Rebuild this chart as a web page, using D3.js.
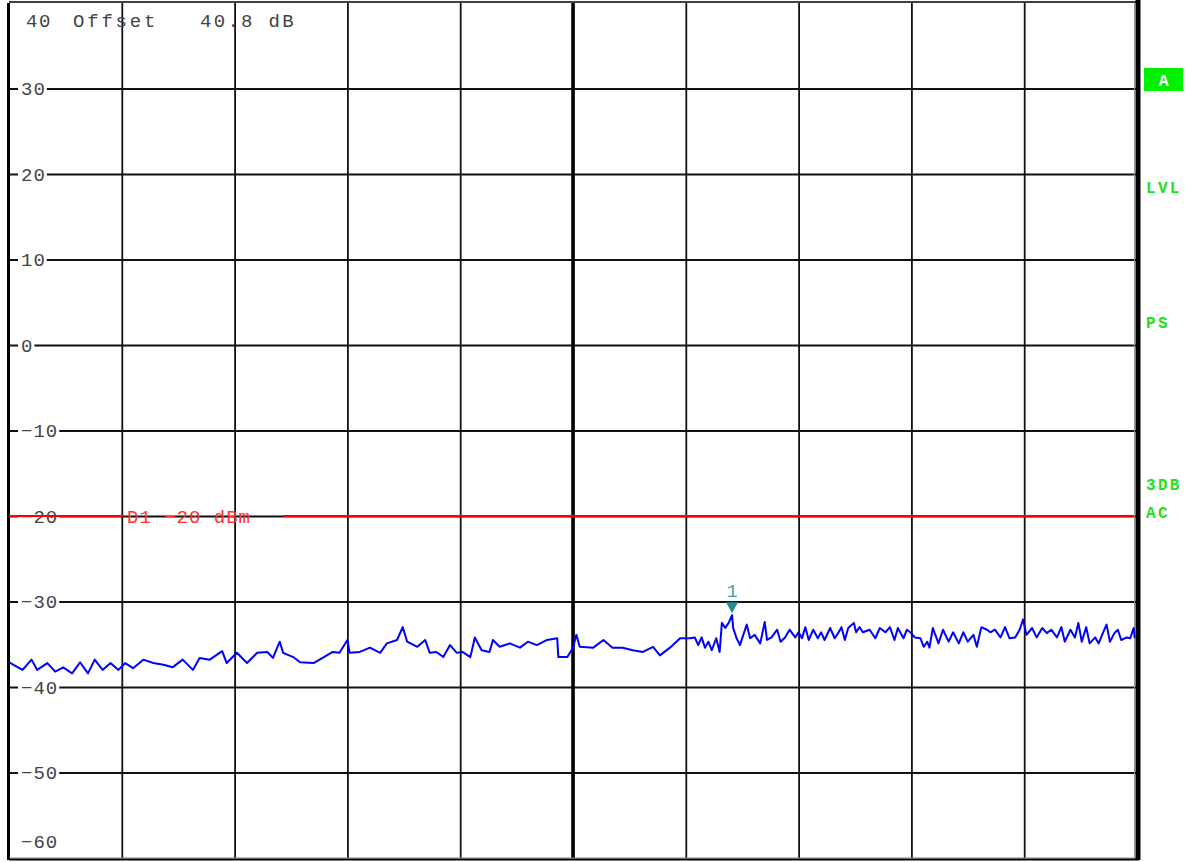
<!DOCTYPE html>
<html><head><meta charset="utf-8">
<script src="https://cdn.jsdelivr.net/npm/d3@7"></script>
<style>
html,body{margin:0;padding:0;background:#fff;}
text{font-family:"Liberation Mono","DejaVu Sans Mono",monospace;}
</style></head>
<body><svg id="c" width="1186" height="862"></svg>
<script>
// ---- data ----
const yTickValues = [30, 20, 10, 0, -10, -20, -30, -40, -50];
const yTickLabels = ["30", "20", "10", "0", "\u221210", "\u221220", "\u221230", "\u221240", "\u221250"];
const xDivisions = [0, 1, 2, 3, 4, 5, 6, 7, 8, 9, 10];
const refLevelLabel = "40";
const bottomLabel = "\u221260";
const headerTexts = ["Offset", "40.8 dB"];
const displayLineValue = -20;
const displayLineLabel = "D1  \u221220  dBm";
const sideLabels = ["LVL", "PS", "3DB", "AC"];
const traceLabel = "A";
const markerName = "1";
const markerX = 6.41;
const markerValue = -31.6;
// trace: x in divisions (0..10), level in dBm
const traceX = [0.00,0.04,0.12,0.20,0.25,0.34,0.41,0.48,0.56,0.63,0.70,0.76,0.83,0.90,0.97,1.03,1.10,1.19,1.28,1.37,1.45,1.54,1.63,1.69,1.78,1.89,1.93,2.02,2.11,2.20,2.29,2.34,2.40,2.43,2.52,2.58,2.70,2.78,2.87,2.93,3.00,3.02,3.11,3.20,3.29,3.35,3.44,3.49,3.53,3.62,3.69,3.73,3.79,3.85,3.91,3.97,4.02,4.09,4.13,4.19,4.26,4.29,4.35,4.44,4.53,4.60,4.68,4.77,4.86,4.87,4.95,5.00,5.03,5.06,5.18,5.27,5.35,5.44,5.53,5.62,5.71,5.77,5.86,5.95,
  6.04,6.08,6.11,6.14,6.17,6.20,6.23,6.27,6.30,6.32,6.35,6.38,6.41,6.42,6.45,6.48,6.51,6.54,6.57,6.61,6.66,6.70,6.72,6.76,6.81,6.84,6.88,6.92,6.97,7.00,7.03,7.06,7.09,7.13,7.17,7.20,7.23,7.28,7.32,7.35,7.38,7.41,7.44,7.49,7.51,7.54,7.57,7.63,7.68,7.72,7.77,7.81,7.85,7.88,7.93,7.96,7.99,8.03,8.08,8.11,8.14,8.16,8.19,8.24,8.28,8.33,8.37,8.42,8.46,8.50,8.55,8.58,8.62,8.67,8.70,8.74,8.79,8.83,8.87,8.92,8.96,8.99,9.02,9.07,9.11,9.16,9.20,9.24,9.29,9.33,9.36,9.41,9.45,9.48,9.51,9.55,9.58,9.63,9.66,9.70,9.73,9.76,9.80,9.83,9.86,9.91,9.94,9.97,9.98];
const traceDb = [-37.1,-37.4,-38.0,-36.8,-38.0,-37.2,-38.2,-37.7,-38.4,-37.1,-38.4,-36.8,-38.0,-37.2,-38.0,-37.2,-37.8,-36.8,-37.2,-37.4,-37.7,-36.8,-38.0,-36.6,-36.8,-35.8,-37.2,-36.0,-37.2,-36.0,-35.9,-36.6,-34.7,-36.0,-36.5,-37.1,-37.2,-36.6,-35.9,-36.0,-34.5,-36.0,-35.9,-35.4,-36.0,-34.9,-34.5,-33.0,-34.7,-35.3,-34.5,-36.0,-35.9,-36.5,-35.1,-36.0,-35.9,-36.5,-34.2,-35.7,-35.9,-34.5,-35.3,-34.9,-35.4,-34.7,-35.1,-34.5,-34.3,-36.5,-36.5,-35.4,-33.9,-35.3,-35.4,-34.5,-35.4,-35.4,-35.7,-35.9,-35.3,-36.3,-35.4,-34.3,
  -34.3,-34.2,-35.1,-34.2,-35.4,-34.7,-35.7,-34.3,-35.9,-32.5,-33.1,-32.5,-31.6,-33.1,-34.3,-35.1,-33.9,-32.7,-34.3,-33.9,-34.9,-32.4,-34.5,-34.2,-33.3,-34.7,-34.2,-33.3,-34.2,-33.6,-34.3,-33.0,-34.5,-33.3,-34.3,-33.6,-34.5,-33.1,-34.3,-33.7,-33.0,-34.5,-33.1,-32.5,-33.6,-33.0,-33.6,-33.3,-34.3,-33.1,-33.6,-33.0,-34.5,-33.1,-34.3,-33.3,-33.6,-34.2,-34.3,-35.3,-34.7,-35.4,-33.1,-34.9,-33.3,-34.7,-33.6,-34.9,-33.6,-34.7,-33.9,-35.3,-33.0,-33.3,-33.6,-33.3,-34.2,-33.0,-34.3,-34.2,-33.3,-32.1,-33.9,-33.1,-34.2,-33.1,-33.7,-33.3,-34.2,-33.0,-34.7,-33.3,-34.2,-32.5,-34.7,-33.0,-34.9,-34.2,-34.9,-33.6,-32.7,-34.7,-33.7,-33.3,-34.5,-34.2,-34.3,-33.1,-34.3];

// ---- drawing ----
const svg = d3.select("#c");
const L = 9, R = 1137, T = 3, B = 858;
const x = d3.scaleLinear().domain([0, 10]).range([L, R]);
const y = d3.scaleLinear().domain([-60, 40]).range([B, T]);

// horizontal grid
svg.append("g").attr("transform", `translate(${L},0)`)
  .call(d3.axisLeft(y).tickValues(yTickValues).tickSize(-(R - L)).tickFormat(""))
  .call(g => g.select(".domain").remove())
  .call(g => g.selectAll("line").attr("stroke", "#111").attr("stroke-width", 1.8));

// vertical grid
svg.append("g").attr("transform", `translate(0,${T})`)
  .call(d3.axisBottom(x).tickValues(xDivisions.slice(1, -1)).tickSize(B - T).tickFormat(""))
  .call(g => g.select(".domain").remove())
  .call(g => g.selectAll("line").attr("stroke", "#111").attr("stroke-width", 1.8));

// center line thicker
svg.append("line").attr("x1", x(5)).attr("x2", x(5)).attr("y1", T).attr("y2", B)
  .attr("stroke", "#000").attr("stroke-width", 3.5);

// frame
svg.append("line").attr("x1", L - 0.5).attr("x2", L - 0.5).attr("y1", T).attr("y2", B + 2).attr("stroke", "#000").attr("stroke-width", 3);
svg.append("line").attr("x1", L).attr("x2", R).attr("y1", T - 1).attr("y2", T - 1).attr("stroke", "#000").attr("stroke-width", 1.5);
svg.append("line").attr("x1", L).attr("x2", R).attr("y1", B).attr("y2", B).attr("stroke", "#888").attr("stroke-width", 1);
svg.append("line").attr("x1", L).attr("x2", R + 2).attr("y1", B + 1.5).attr("y2", B + 1.5).attr("stroke", "#000").attr("stroke-width", 2);
svg.append("line").attr("x1", R - 2.5).attr("x2", R - 2.5).attr("y1", T).attr("y2", B).attr("stroke", "#999").attr("stroke-width", 1);
svg.append("line").attr("x1", R + 1).attr("x2", R + 1).attr("y1", 0).attr("y2", B + 2).attr("stroke", "#000").attr("stroke-width", 5);

// y tick labels with white background
const lab = svg.append("g");
yTickValues.forEach((v, i) => {
  const t = lab.append("text").attr("x", 21).attr("y", y(v)).attr("dy", "0.35em")
    .attr("font-size", 19).attr("letter-spacing", 1).attr("fill", "#444").text(yTickLabels[i]);
  const bb = t.node().getBBox();
  lab.insert("rect", "text").attr("x", bb.x - 3).attr("y", y(v) - 2).attr("width", bb.width + 4).attr("height", 4).attr("fill", "#fff");
});
svg.append("text").attr("x", 21).attr("y", y(-58)).attr("dy", "0.35em").attr("font-size", 19).attr("letter-spacing", 1).attr("fill", "#444").text(bottomLabel);

// header
svg.append("text").attr("x", 26).attr("y", 27).attr("font-size", 19).attr("letter-spacing", 1.5).attr("fill", "#444").text(refLevelLabel);
svg.append("text").attr("x", 73).attr("y", 27).attr("font-size", 19).attr("letter-spacing", 2.8).attr("fill", "#444").text(headerTexts[0]);
svg.append("text").attr("x", 200).attr("y", 27).attr("font-size", 19).attr("letter-spacing", 2.3).attr("fill", "#444").text(headerTexts[1]);

// display line D1
const dl = y(displayLineValue);
svg.append("line").attr("x1", L).attr("x2", 123).attr("y1", dl).attr("y2", dl).attr("stroke", "#f00").attr("stroke-width", 2.2);
svg.append("line").attr("x1", 283).attr("x2", R - 3).attr("y1", dl).attr("y2", dl).attr("stroke", "#f00").attr("stroke-width", 2.2);
svg.append("text").attr("x", 127).attr("y", dl).attr("dy", "0.35em").attr("font-size", 19).attr("letter-spacing", 1).attr("fill", "#f33").text(displayLineLabel);

// trace
const pts = traceX.map((d, i) => [d, traceDb[i]]);
svg.append("path").datum(pts)
  .attr("d", d3.line().x(d => x(d[0])).y(d => y(d[1])))
  .attr("fill", "none").attr("stroke", "#0000ff").attr("stroke-width", 2).attr("stroke-linejoin", "round");

// marker
const mx = x(markerX), my = y(markerValue) - 2;
svg.append("path").attr("d", `M${mx - 6},${my - 11}L${mx + 6},${my - 11}L${mx},${my}Z`).attr("fill", "#1f8f8f");
svg.append("text").attr("x", mx).attr("y", my - 16).attr("text-anchor", "middle").attr("font-size", 18).attr("fill", "#3aa3a3").text(markerName);

// side panel
const green = "#22e022";
svg.append("rect").attr("x", 1144).attr("y", 68).attr("width", 39).attr("height", 23).attr("fill", "#00f000");
svg.append("text").attr("x", 1163.5).attr("y", 80).attr("dy", "0.35em").attr("text-anchor", "middle").attr("font-size", 17).attr("font-weight", "bold").attr("fill", "#fff").text(traceLabel);
const sideY = [187, 322, 484, 512];
sideLabels.forEach((s, i) => {
  svg.append("text").attr("x", 1146).attr("y", sideY[i]).attr("dy", "0.35em").attr("font-size", 16).attr("letter-spacing", 2.3).attr("font-weight", "bold").attr("fill", green).text(s);
});
</script></body></html>
